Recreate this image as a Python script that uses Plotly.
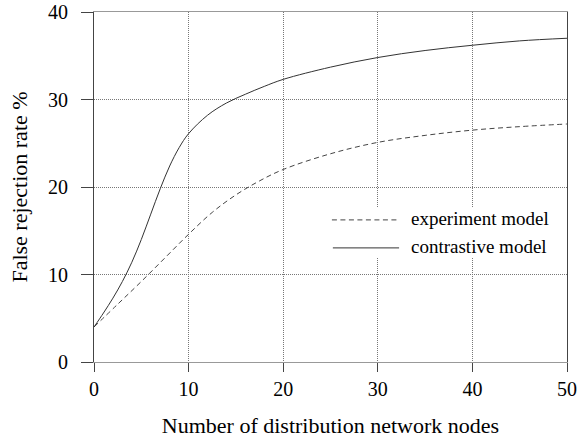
import plotly.graph_objects as go

# ---- data ----
exp_x = [0, 2.5, 5, 7.5, 10, 12.5, 15, 17.5, 20, 25, 30, 35, 40, 45, 50]
exp_y = [4.0, 6.6, 9.2, 11.9, 14.6, 17.1, 19.1, 20.7, 22.0, 23.8, 25.1, 25.9, 26.5, 26.9, 27.2]

con_x = [0, 1, 2, 3, 4, 5, 6, 7, 8, 9, 10, 12, 14, 16, 18, 20, 25, 30, 35, 40, 45, 50]
con_y = [4.0, 5.6, 7.3, 9.2, 11.4, 14.0, 16.9, 19.8, 22.4, 24.5, 26.1, 28.2, 29.6, 30.6, 31.5, 32.3,
         33.7, 34.8, 35.6, 36.2, 36.7, 37.0]

x_ticks = [0, 10, 20, 30, 40, 50]
y_ticks = [0, 10, 20, 30, 40]
series_names = ["experiment model", "contrastive model"]
x_title = "Number of distribution network nodes"
y_title = "False rejection rate %"

FONT = "Liberation Serif, Times New Roman, serif"

fig = go.Figure()
fig.add_trace(go.Scatter(x=exp_x, y=exp_y, mode="lines", name=series_names[0],
                         line=dict(color="#444444", width=1, dash="5px,3.5px", shape="spline"),
                         showlegend=False))
fig.add_trace(go.Scatter(x=con_x, y=con_y, mode="lines", name=series_names[1],
                         line=dict(color="#333333", width=1, shape="spline"),
                         showlegend=False))

# custom legend (white box hiding gridlines, long line samples)
fig.add_shape(type="rect", xref="paper", yref="paper", x0=0.482, x1=0.975, y0=0.297, y1=0.443,
              fillcolor="white", line=dict(width=0), layer="above")
fig.add_shape(type="line", xref="paper", yref="paper", x0=0.503, x1=0.643, y0=0.406, y1=0.406,
              line=dict(color="#444444", width=1, dash="5px,3.5px"), layer="above")
fig.add_shape(type="line", xref="paper", yref="paper", x0=0.505, x1=0.645, y0=0.326, y1=0.326,
              line=dict(color="#333333", width=1), layer="above")
fig.add_annotation(xref="paper", yref="paper", x=0.665, y=0.410, text=series_names[0],
                   showarrow=False, xanchor="left", yanchor="middle",
                   font=dict(family=FONT, size=19, color="black"))
fig.add_annotation(xref="paper", yref="paper", x=0.667, y=0.329, text=series_names[1],
                   showarrow=False, xanchor="left", yanchor="middle",
                   font=dict(family=FONT, size=19, color="black"))

fig.update_layout(
    width=579, height=438,
    margin=dict(l=94, r=12, t=12, b=76, autoexpand=False),
    paper_bgcolor="white", plot_bgcolor="white",
    font=dict(family=FONT, size=20, color="black"),
)
fig.update_xaxes(
    range=[0, 50], tickvals=x_ticks, ticktext=[str(v) for v in x_ticks],
    showline=True, linecolor="#999999", linewidth=1, mirror=True,
    ticks="outside", ticklen=9, tickcolor="#444444", tickwidth=1,
    showgrid=True, gridcolor="#777777", gridwidth=1, griddash="1px,1px",
    zeroline=False, automargin=False,
    tickfont=dict(family=FONT, size=20, color="black"),
    title=dict(text=x_title, font=dict(family=FONT, size=22, color="black"), standoff=23),
)
fig.update_yaxes(
    range=[0, 40], tickvals=y_ticks, ticktext=[str(v) for v in y_ticks],
    showline=True, linecolor="#444444", linewidth=1, mirror=True,
    ticks="outside", ticklen=12, tickcolor="#444444", tickwidth=1, ticklabelstandoff=9,
    showgrid=True, gridcolor="#777777", gridwidth=1, griddash="1px,1px",
    zeroline=False, automargin=False,
    tickfont=dict(family=FONT, size=20, color="black"),
    title=dict(text=y_title, font=dict(family=FONT, size=22, color="black"), standoff=14),
)

fig.write_html("out.html")
